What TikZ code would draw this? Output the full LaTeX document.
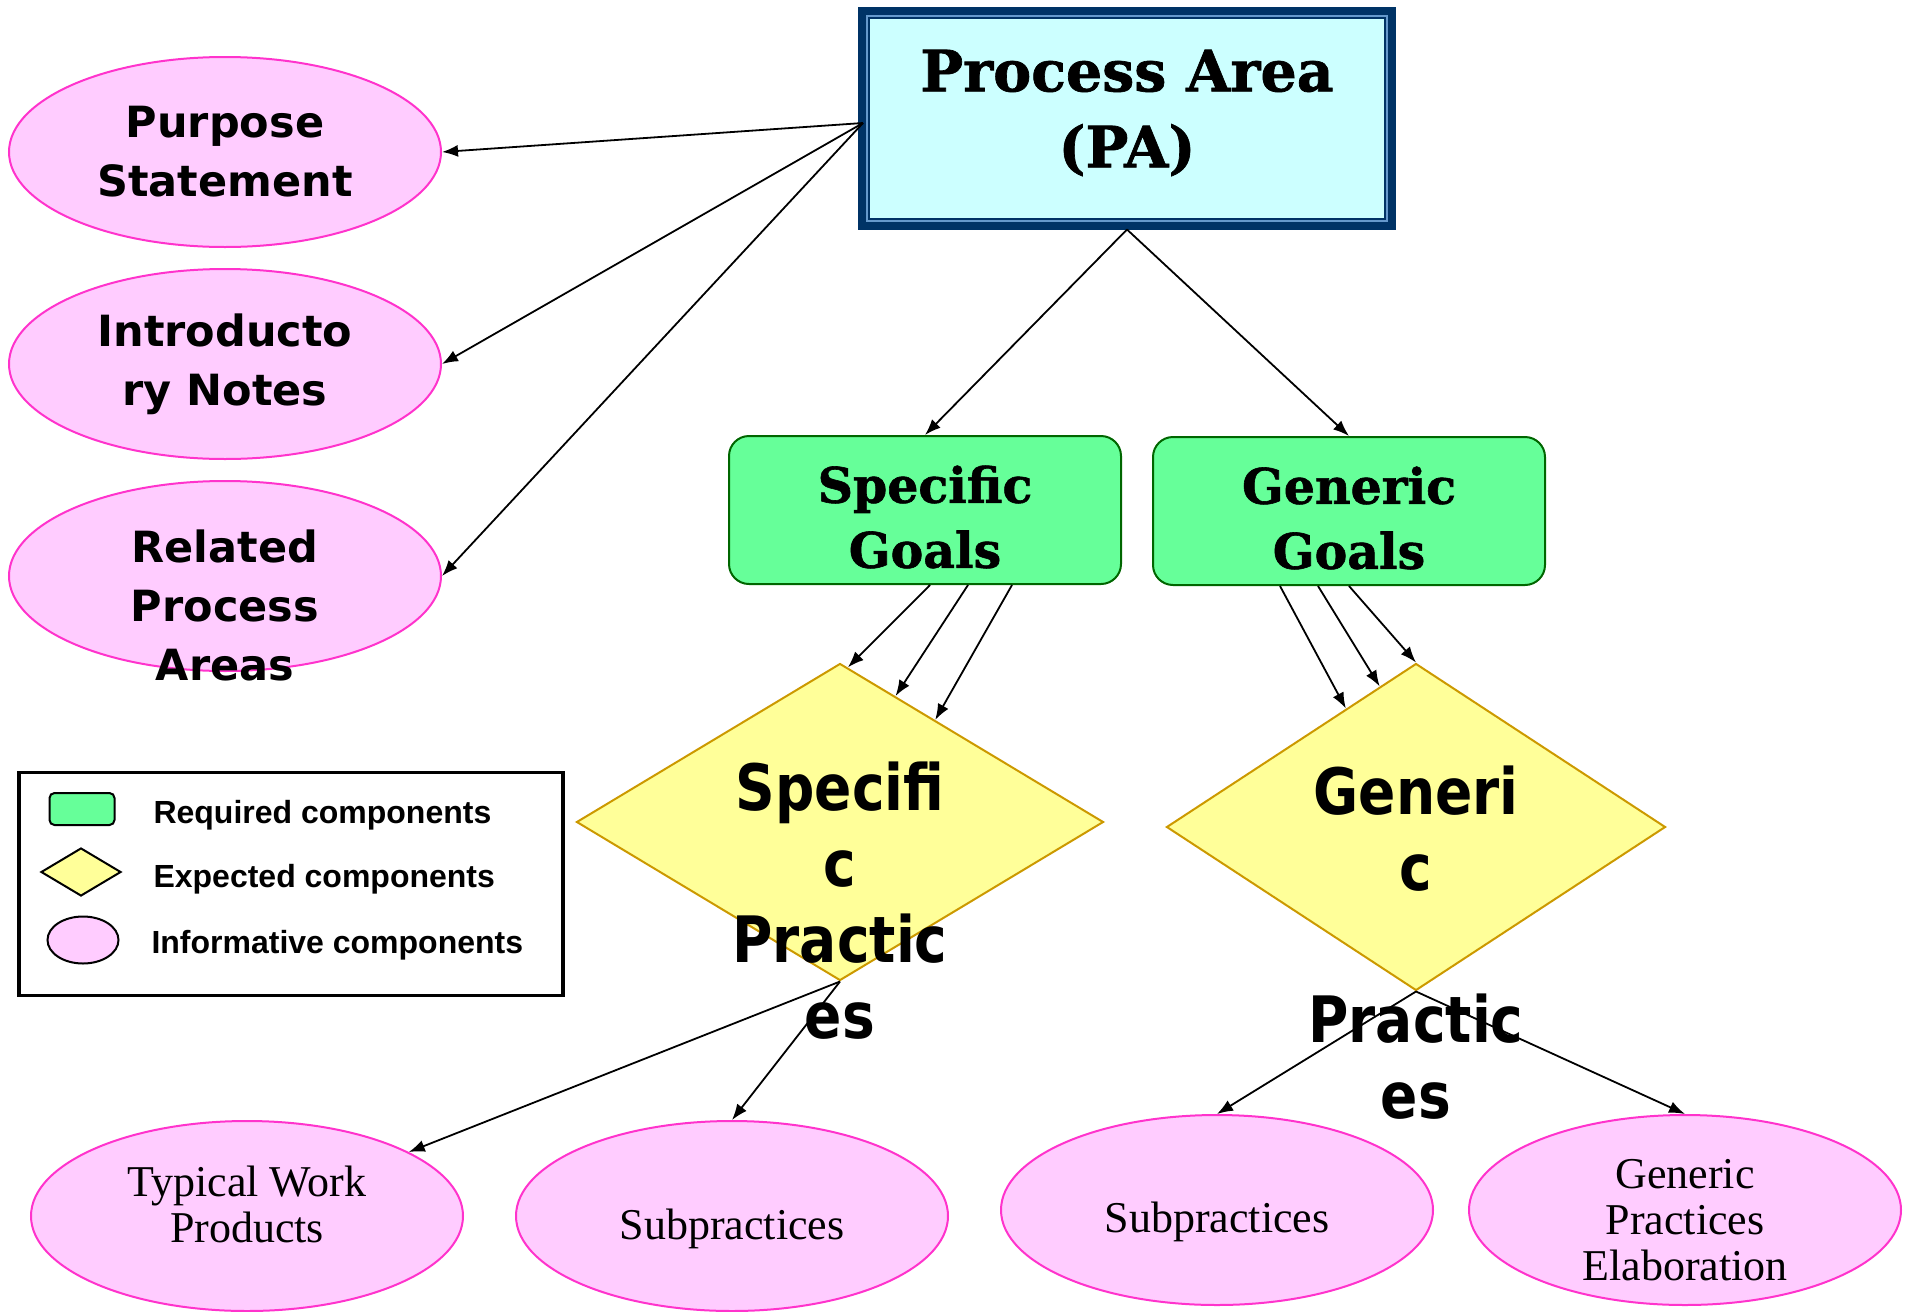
\documentclass[tikz,border=0pt]{standalone}
\usepackage{fontspec}
\usetikzlibrary{shapes.geometric,arrows.meta,calc,positioning}
\newfontfamily\slabfont[BoldFeatures={FakeBold=1.2}]{DejaVu Serif}
\newfontfamily\verdfont{DejaVu Sans}
\newfontfamily\narrowfont[FakeStretch=0.86]{DejaVu Sans}
\newfontfamily\arialfont{Liberation Sans}
\newfontfamily\timesfont{Liberation Serif}
\definecolor{paNavy}{HTML}{003366}
\definecolor{paStrip}{HTML}{6699CC}
\definecolor{paCyan}{HTML}{CCFFFF}
\definecolor{goalGreen}{HTML}{66FF99}
\definecolor{goalEdge}{HTML}{006600}
\definecolor{diaYellow}{HTML}{FFFF99}
\definecolor{diaEdge}{HTML}{CC9900}
\definecolor{infoPink}{HTML}{FFCCFF}
\definecolor{infoEdge}{HTML}{FF33CC}
\begin{document}
\begin{tikzpicture}[x=1pt,y=-1pt,
  arr/.style={line width=1.8pt,-{Latex[length=16pt,width=12pt]}},
  pabox/.style={draw=paNavy,line width=8pt,fill=paCyan,minimum width=530pt,minimum height=215pt},
  patext/.style={align=center,font=\slabfont\bfseries\fontsize{57}{76}\selectfont},
  goalbox/.style={draw=goalEdge,line width=2pt,fill=goalGreen,rounded corners=20pt,
    minimum width=392pt,minimum height=148pt},
  goaltext/.style={align=center,font=\slabfont\bfseries\fontsize{49}{65}\selectfont},
  expdiam/.style={diamond,draw=diaEdge,line width=2pt,fill=diaYellow,inner sep=0pt},
  praclabel/.style={align=center,font=\narrowfont\bfseries\fontsize{64}{76}\selectfont},
  lefttext/.style={align=center,font=\verdfont\bfseries\fontsize{43}{59}\selectfont},
  infoleft/.style={ellipse,draw=infoEdge,line width=2pt,fill=infoPink,minimum width=432pt,
    minimum height=190pt,inner sep=0pt,lefttext},
  infobottom/.style={ellipse,draw=infoEdge,line width=2pt,fill=infoPink,minimum width=432pt,
    minimum height=190pt,inner sep=0pt},
  bottomtext/.style={align=center,font=\timesfont\fontsize{44}{46}\selectfont},
  legtext/.style={anchor=base west,font=\arialfont\bfseries\fontsize{32}{36}\selectfont}
]
\useasboundingbox (0,0) rectangle (1907,1312);

\node[pabox] (pa) at (1127,118) {};
\draw[paStrip,line width=2pt] ($(pa.south west)+(9pt,9pt)$) rectangle ($(pa.north east)+(-9pt,-9pt)$);
\draw[paNavy,line width=2pt] ($(pa.south west)+(11pt,11pt)$) rectangle ($(pa.north east)+(-11pt,-11pt)$);
\node[patext] (palabel) at ($(pa)+(0,-5)$) {Process Area\\(PA)};
\coordinate (pasrc) at ($(pa.west)+(5pt,-5pt)$);

\node[infoleft] (purpose) at (225,152) {Purpose\\Statement};
\node[infoleft] (intro) at (225,364) {Introducto\\ry Notes};
\node[infoleft] (related) at (225,576) {};
\node[lefttext,anchor=base] (relatedlabel) at (225,680) {Related\\Process\\Areas};

\node[goalbox] (sg) at (925,510) {};
\node[goalbox] (gg) at (1349,511) {};
\node[goaltext] (sglabel) at ($(sg)+(0,7)$) {Specific\\Goals};
\node[goaltext] (gglabel) at ($(gg)+(0,7)$) {Generic\\Goals};

\node[expdiam,minimum width=527pt,minimum height=317pt] (sd) at (840,822) {};
\node[expdiam,minimum width=499pt,minimum height=327pt] (gd) at (1416,827) {};
\node[praclabel,anchor=base] (sdlabel) at (840,1038) {Specifi\\c\\Practic\\es};
\node[praclabel,anchor=base] (gdlabel) at (1416,1118) {Generi\\c\\[76pt]Practic\\es};

\node[infobottom] (twp) at (247,1216) {};
\node[infobottom] (subsp) at (732,1216) {};
\node[infobottom] (subgp) at (1217,1210) {};
\node[infobottom] (gpe) at (1685,1210) {};
\node[bottomtext] (twplabel) at ($(twp)+(0,-12)$) {Typical Work\\Products};
\node[bottomtext] (subsplabel) at ($(subsp)+(0,13)$) {Subpractices};
\node[bottomtext] (subgplabel) at ($(subgp)+(0,12)$) {Subpractices};
\node[bottomtext] (gpelabel) at ($(gpe)+(0,10)$) {Generic\\Practices\\Elaboration};

\node[draw,line width=3.5pt,minimum width=544pt,minimum height=223pt,outer sep=0pt] (legend) at (291,884) {};
\node[draw,line width=2pt,fill=goalGreen,rounded corners=5pt,minimum width=65pt,minimum height=32pt] (legreq) at (82,809) {};
\node[diamond,draw,line width=2pt,fill=diaYellow,minimum width=80pt,minimum height=48pt,inner sep=0pt] (legexp) at (81,872) {};
\node[ellipse,draw,line width=2pt,fill=infoPink,minimum width=71pt,minimum height=47pt,inner sep=0pt] (leginf) at (83,940) {};
\node[legtext] (legreqtext) at (150,823) {Required components};
\node[legtext] (legexptext) at (150,887) {Expected components};
\node[legtext] (leginftext) at (148,953) {Informative components};

\foreach \n in {purpose,intro,related}
	\draw[arr] (pasrc) -- (\n.east);
\foreach \n in {sg,gg}
	\draw[arr] (pa.south) -- (\n.north);
\foreach \dx/\t in {5/0.03,43/0.21,87/0.36}
	\draw[arr] ($(sg.south)+(\dx,0)$) -- ($(sd.north)!\t!(sd.east)$);
\foreach \dx/\t in {-69/0.28,-31/0.145,0/0}
	\draw[arr] ($(gg.south)+(\dx,0)$) -- ($(gd.north)!\t!(gd.west)$);
\draw[arr] (sd.south) -- (twp);
\draw[arr] (sd.south) -- (subsp.north);
\draw[arr] (gd.south) -- (subgp.north);
\draw[arr] (gd.south) -- (gpe.north);
\end{tikzpicture}
\end{document}
